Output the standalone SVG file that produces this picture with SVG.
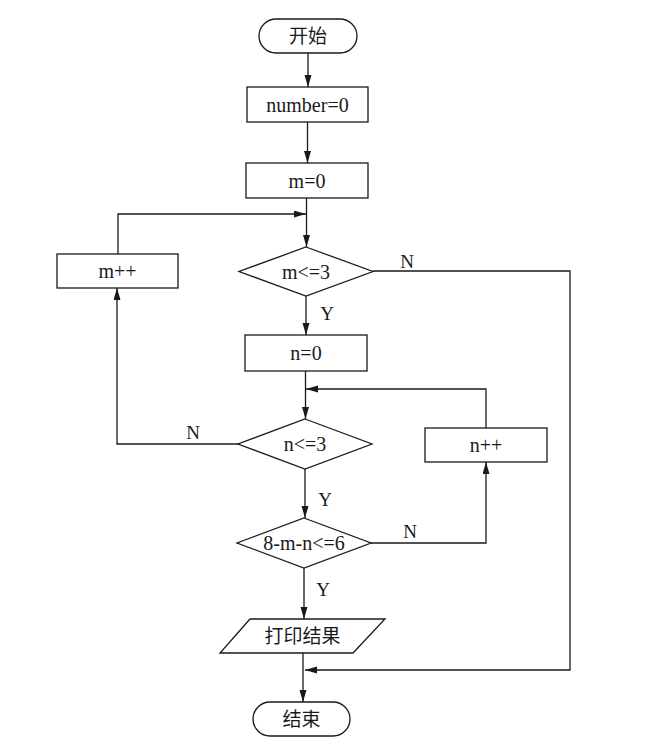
<svg xmlns="http://www.w3.org/2000/svg" width="661" height="743" viewBox="0 0 661 743">
<style>
.s{fill:#fff;stroke:#1a1a1a;stroke-width:1.3}
.c{fill:none;stroke:#1a1a1a;stroke-width:1.3}
.t{font-family:"Liberation Serif","Times New Roman",serif;font-size:20px;fill:#1a1a1a;text-anchor:middle;dominant-baseline:central}
.z{font-family:"Liberation Serif","Noto Sans CJK SC",serif;font-size:19px;fill:#1a1a1a;text-anchor:middle;dominant-baseline:central}
.l{font-family:"Liberation Serif","Times New Roman",serif;font-size:19px;fill:#1a1a1a;text-anchor:middle;dominant-baseline:central}
</style>
<defs>
<marker id="a" markerUnits="userSpaceOnUse" markerWidth="13" markerHeight="8" refX="12" refY="3.5" orient="auto">
<path d="M0,0 L12,3.5 L0,7 z" fill="#1a1a1a"/>
</marker>
</defs>
<rect width="661" height="743" fill="#fff"/>
<g id="connectors">
<line class="c" x1="308" y1="53" x2="308" y2="87" marker-end="url(#a)"/>
<line class="c" x1="307.5" y1="122" x2="307.5" y2="163" marker-end="url(#a)"/>
<line class="c" x1="306.5" y1="198" x2="306.5" y2="247" marker-end="url(#a)"/>
<polyline class="c" points="118,254 118,214 306,214" marker-end="url(#a)"/>
<line class="c" x1="306" y1="296" x2="306" y2="335" marker-end="url(#a)"/>
<polyline class="c" points="373,271 570,271 570,670 305,670" marker-end="url(#a)"/>
<line class="c" x1="305.5" y1="371" x2="305.5" y2="419" marker-end="url(#a)"/>
<polyline class="c" points="486,428 486,389 306,389" marker-end="url(#a)"/>
<polyline class="c" points="238,444 117,444 117,288" marker-end="url(#a)"/>
<line class="c" x1="305" y1="469" x2="305" y2="518" marker-end="url(#a)"/>
<polyline class="c" points="371,543 486,543 486,462" marker-end="url(#a)"/>
<line class="c" x1="304" y1="568" x2="304" y2="619" marker-end="url(#a)"/>
<line class="c" x1="303" y1="653" x2="303" y2="702" marker-end="url(#a)"/>
<text class="l" x="407" y="261">N</text>
<text class="l" x="327" y="313">Y</text>
<text class="l" x="193" y="432">N</text>
<text class="l" x="325" y="499">Y</text>
<text class="l" x="410" y="531">N</text>
<text class="l" x="323" y="589">Y</text>
</g>
<g id="start">
<rect class="s" x="259" y="19" width="98" height="34" rx="17" ry="17"/>
<text class="z" x="308" y="36">开始</text>
</g>
<g id="number0">
<rect class="s" x="247" y="87" width="121" height="35"/>
<text class="t" x="307.5" y="104.5">number=0</text>
</g>
<g id="m0">
<rect class="s" x="246" y="163" width="122" height="35"/>
<text class="t" x="307" y="180.5">m=0</text>
</g>
<g id="mcond">
<polygon class="s" points="306,247 373,271.5 306,296 239,271.5"/>
<text class="t" x="306" y="271.5">m&lt;=3</text>
</g>
<g id="minc">
<rect class="s" x="57" y="254" width="121" height="34"/>
<text class="t" x="117.5" y="271">m++</text>
</g>
<g id="n0">
<rect class="s" x="245" y="335" width="122" height="36"/>
<text class="t" x="306" y="353">n=0</text>
</g>
<g id="ncond">
<polygon class="s" points="305,419 372,444 305,469 238,444"/>
<text class="t" x="305" y="444">n&lt;=3</text>
</g>
<g id="ninc">
<rect class="s" x="425" y="428" width="122" height="34"/>
<text class="t" x="486" y="445">n++</text>
</g>
<g id="check">
<polygon class="s" points="304,518 371,543 304,568 237,543"/>
<text class="t" x="304" y="543">8-m-n&lt;=6</text>
</g>
<g id="print">
<polygon class="s" points="250,619 385,619 353,653 220,653"/>
<text class="z" x="302.5" y="636">打印结果</text>
</g>
<g id="end">
<rect class="s" x="253" y="702" width="97" height="34" rx="17" ry="17"/>
<text class="z" x="301.5" y="719">结束</text>
</g>
</svg>
